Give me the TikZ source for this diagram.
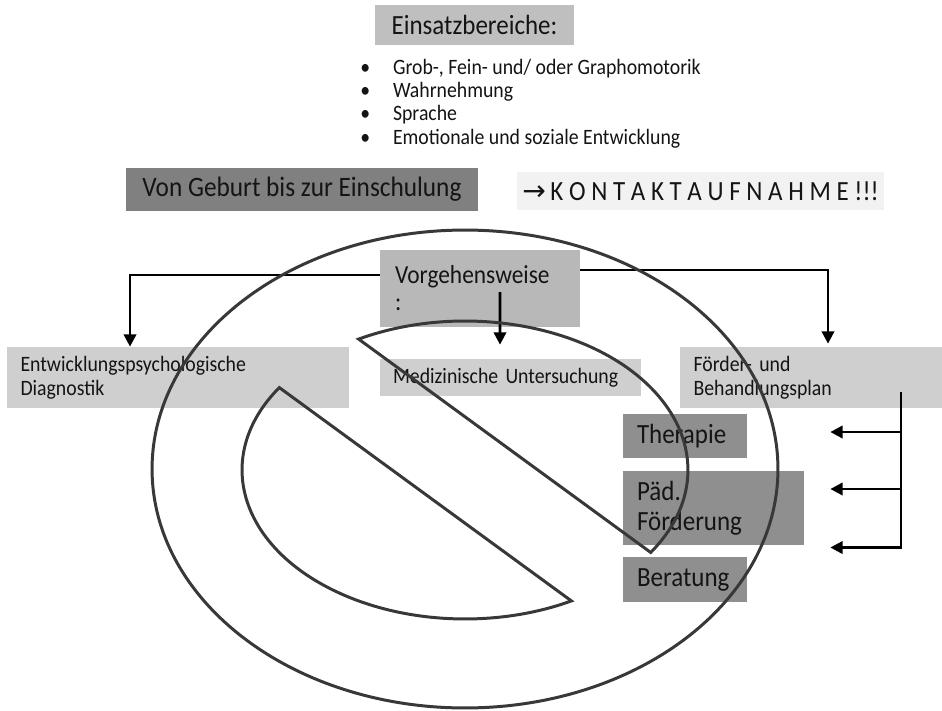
\documentclass[tikz,border=0pt]{standalone}
\usepackage{fontspec}
\setmainfont[FakeStretch=0.9]{Carlito}
\newfontfamily\symfont{DejaVu Sans}
\usetikzlibrary{arrows.meta}

\begin{document}
\begin{tikzpicture}[x=0.02cm,y=-0.02cm,
    box/.style={inner sep=0pt,text=black!92},
    lightbox/.style={box,fill=black!19,align=left,inner xsep=0.27cm,
      font=\fontsize{12.5}{13.6}\selectfont},
    darkbox/.style={box,fill=black!44,align=left,inner xsep=0.28cm,
      text width=1.92cm,font=\fontsize{15.8}{17}\selectfont},
    conn/.style={line width=1.6pt,-{Triangle[length=7pt,width=7pt]}},
    sign/.style={line width=1.7pt,draw=black!78}]
  \useasboundingbox (0,0) rectangle (942,710);

  \node[box,fill=black!25,minimum width=3.98cm,minimum height=0.8cm,
        font=\fontsize{15.8}{17}\selectfont] (einsatz) at (474.5,25) {Einsatzbereiche:};
  \node[box,anchor=west,align=left,font=\fontsize{12.5}{13.3}\selectfont] (bereiche) at (360,103.5)
    {\textbullet\hspace{13pt}Grob-, Fein- und/ oder Graphomotorik\\
     \textbullet\hspace{13pt}Wahrnehmung\\
     \textbullet\hspace{13pt}Sprache\\
     \textbullet\hspace{13pt}Emotionale und soziale Entwicklung};
  \node[box,fill=black!50,minimum width=7.04cm,minimum height=0.86cm,
        font=\fontsize{16}{17}\selectfont] (geburt) at (302,189.5) {Von Geburt bis zur Einschulung};
  \node[box,fill=black!5,minimum width=7.34cm,minimum height=0.76cm,
        font=\fontsize{15.8}{17}\selectfont] (kontakt) at (700.5,191)
    {{\symfont\fontsize{16}{17}\selectfont →}\,K O N T A K T A U F N A H M E !!!};

  \node[box,fill=black!28,align=left,text width=3.4cm,inner xsep=0.3cm,minimum height=1.54cm,
        font=\fontsize{14.8}{15.3}\selectfont] (vorg) at (480,288.5) {Vorgehensweise\\:};
  \node[lightbox,text width=6.3cm,minimum height=1.22cm] (entw) at (178,377.5)
    {Entwicklungspsychologische\\Diagnostik};
  \node[lightbox,text width=4.7cm,minimum height=0.74cm] (medi) at (510.5,377.5)
    {Medizinische Untersuchung};
  \node[lightbox,text width=4.7cm,minimum height=1.22cm] (foerd) at (811,377.5)
    {Förder- und\\Behandlungsplan};

  \node[darkbox,minimum height=0.88cm] (thera) at (685,436) {Therapie};
  \node[darkbox,text width=3.06cm,minimum height=1.48cm] (paed) at (713.5,508) {Päd.\\Förderung};
  \node[darkbox,minimum height=0.9cm] (berat) at (685,579.5) {Beratung};

  \draw[conn] ([yshift=0.27cm]vorg.west) -| ([xshift=-0.96cm]entw.north);
  \draw[conn] ([yshift=0.37cm]vorg.east) -| ([xshift=0.34cm,yshift=0.06cm]foerd.north);
  \draw[conn] ([xshift=0.4cm,yshift=-0.07cm]vorg.center) -- ([xshift=-0.21cm,yshift=0.28cm]medi.north);

  \coordinate (brtop) at ([xshift=1.8cm,yshift=0.32cm]foerd.south);
  \coordinate (tthera) at ([xshift=1.66cm,yshift=0.08cm]thera.east);
  \coordinate (tpaed) at ([xshift=0.52cm,yshift=0.38cm]paed.east);
  \coordinate (tberat) at ([xshift=1.66cm,yshift=0.64cm]berat.east);
  \draw[conn] (brtop) |- (tberat);
  \draw[conn] (brtop |- tthera) -- (tthera);
  \draw[conn] (brtop |- tpaed) -- (tpaed);

  \draw[sign] (465,469) ellipse [x radius=6.26cm,y radius=4.78cm];
  \draw[sign,line join=miter] (465,470) ++(118.5:4.46cm and 2.98cm)
    arc[start angle=118.5,end angle=-33.6,x radius=4.46cm,y radius=2.98cm] -- cycle;
  \draw[sign,line join=miter] (465,470) ++(146.4:4.46cm and 2.98cm)
    arc[start angle=146.4,end angle=298.5,x radius=4.46cm,y radius=2.98cm] -- cycle;
\end{tikzpicture}
\end{document}
